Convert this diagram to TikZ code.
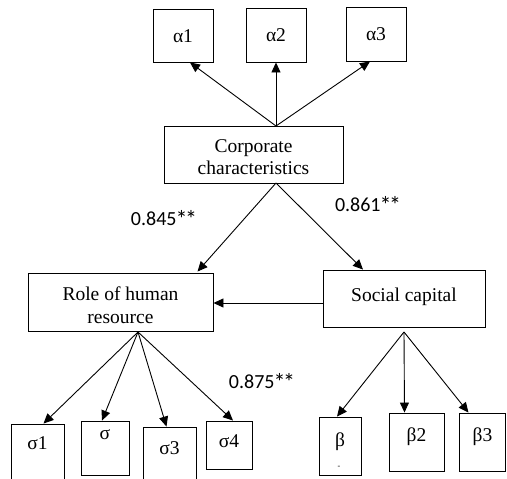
\documentclass[tikz,border=0pt]{standalone}
\usepackage{fontspec}
\setmainfont{Liberation Serif}
\newfontfamily\boxfont{Liberation Serif}
\newfontfamily\labfont{Carlito}
\usetikzlibrary{arrows.meta}
\newcommand{\bigast}{\raisebox{-2.5pt}{\fontsize{24}{24}\selectfont\kern-1pt*\kern-2.5pt*}}
\tikzset{
  box/.style={draw, line width=0.9pt, inner sep=0pt},
  txt/.style={font=\boxfont\fontsize{19.5}{22.5}\selectfont, align=center, inner sep=0pt},
  coef/.style={font=\labfont\fontsize{20}{22}\selectfont, inner sep=0pt},
  arr/.style={line width=0.9pt, -{Triangle[length=10pt,width=9pt]}},
}
\begin{document}
\begin{tikzpicture}[x=1pt,y=-1pt]
\useasboundingbox (0,0) rectangle (507,479);
\clip (0,0) rectangle (507,479);
% top boxes
\node[box, minimum width=60pt, minimum height=53pt] (a1) at (183,35.5) {};
\node[txt] at (183,36) {α1};
\node[box, minimum width=60pt, minimum height=54pt] (a2) at (276,35) {};
\node[txt] at (276,35) {α2};
\node[box, minimum width=60pt, minimum height=54pt] (a3) at (376,34) {};
\node[txt] at (376,34) {α3};
% corporate
\node[box, minimum width=179pt, minimum height=57pt] (corp) at (253.5,154.5) {};
\node[txt] at (253.5,157) {Corporate\\characteristics};
\coordinate (ctop) at (276,126);
\coordinate (cbot) at (276,183);
% middle boxes
\node[box, minimum width=185pt, minimum height=58pt] (role) at (120.5,302) {};
\node[txt] at (120.5,305) {Role of human\\resource};
\node[box, minimum width=162pt, minimum height=57pt] (soc) at (404,298.5) {};
\node[txt] at (404,297) {Social capital};
\coordinate (rbot) at (138,332);
\coordinate (sbot) at (404,332);
% sigma boxes
\node[box, minimum width=53pt, minimum height=70pt] (s1) at (37.5,459) {};
\node[txt] at (37.5,443) {σ1};
\node[box, minimum width=48pt, minimum height=54pt] (s2) at (105,448) {};
\node[txt] at (105,435) {σ};
\node[box, minimum width=53pt, minimum height=70pt] (s3) at (169.5,462) {};
\node[txt] at (169.5,448) {σ3};
\node[box, minimum width=46pt, minimum height=48pt] (s4) at (229,445) {};
\node[txt] at (229,441) {σ4};
% beta boxes
\node[box, minimum width=42pt, minimum height=58pt] (b1) at (340,446) {};
\node[txt] at (340,442) {β};
\node[font=\fontsize{8}{8}\selectfont, inner sep=0pt] at (339,467) {-};
\node[box, minimum width=55pt, minimum height=58pt] (b2) at (416.5,442) {};
\node[txt] at (416.5,437) {β2};
\node[box, minimum width=46pt, minimum height=58pt] (b3) at (482.5,442) {};
\node[txt] at (482.5,437) {β3};
% arrows up
\draw[arr] (ctop) -- ([xshift=7pt]a1.south);
\draw[arr] (ctop) -- (a2.south);
\draw[arr] (ctop) -- ([xshift=-6pt]a3.south);
% from corp
\draw[arr] (cbot) -- ([xshift=77pt,yshift=1pt]role.north);
\draw[arr] (cbot) -- ([xshift=-41pt]soc.north);
\draw[arr] (soc.west |- 0,303) -- (role.east |- 0,303);
% role fan
\draw[arr] (rbot) -- ([xshift=6pt]s1.north);
\draw[arr] (rbot) -- ([xshift=-3pt]s2.north);
\draw[arr] (rbot) -- ([xshift=-3pt]s3.north);
\draw[arr] (rbot) -- ([xshift=4pt]s4.north);
% social fan
\draw[arr] (sbot) -- ([xshift=-3pt]b1.north);
\draw[arr] (sbot) -- ([xshift=-12pt]b2.north);
\draw[arr] (sbot) -- ([xshift=-14pt]b3.north);
% coefficients
\node[coef] at (164,219) {0.845\bigast};
\node[coef] at (368,205) {0.861\bigast};
\node[coef] at (262,382) {0.875\bigast};
\end{tikzpicture}
\end{document}
